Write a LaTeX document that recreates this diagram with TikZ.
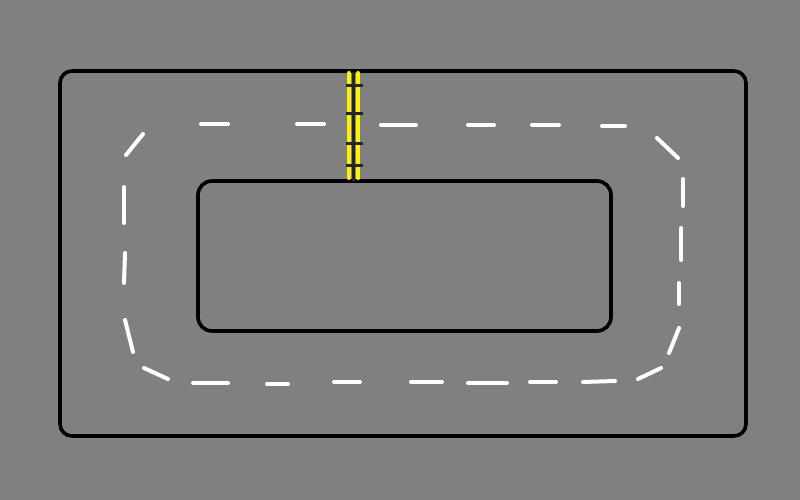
\documentclass[tikz,border=0pt]{standalone}
\begin{document}
\begin{tikzpicture}[x=1pt, y=-1pt, line cap=round,
  wall/.style={line width=3.6pt, rounded corners=12pt},
  lane/.style={white, line width=4pt},
  stripe/.style={yellow, line width=4pt},
  tie/.style={black!85, line width=3pt, line cap=butt}]
  % ground
  \fill[gray] (0,0) rectangle (800,500);
  % track borders
  \draw[wall] (60,71) rectangle (746,436);
  \draw[wall, rounded corners=14pt] (198,181) rectangle (611,331);
  % lane marks
  \foreach \xa/\ya/\xb/\yb in {
      201/124/228/124, 297/124/324/124, 381/125/416/125,
      468/125/494/125, 532/125/559/125, 602/126/625/126,
      657/138/678/158, 683/179/683/206, 681/228/681/260,
      679/283/679/304, 679/328/669/353, 661/368/638/379,
      615/381/583/382, 556/382/530/382, 507/383/468/383,
      442/382/411/382, 360/382/334/382, 288/384/267/384,
      228/383/193/383, 168/379/144/368, 133/352/125/320,
      124/283/125/253, 124/223/124/187, 126/155/143/134}
    \draw[lane] (\xa,\ya) -- (\xb,\yb);
  % start line
  \draw[stripe] (348.7,73) -- (348.7,178);
  \draw[stripe] (358.3,73) -- (358.3,178);
  \draw[tie] (353.3,72) -- (353.3,181);
  \foreach \y in {85.3,113.3,143.3,165.3}
    \draw[tie] (345.5,\y) -- (363,\y);
\end{tikzpicture}
\end{document}
